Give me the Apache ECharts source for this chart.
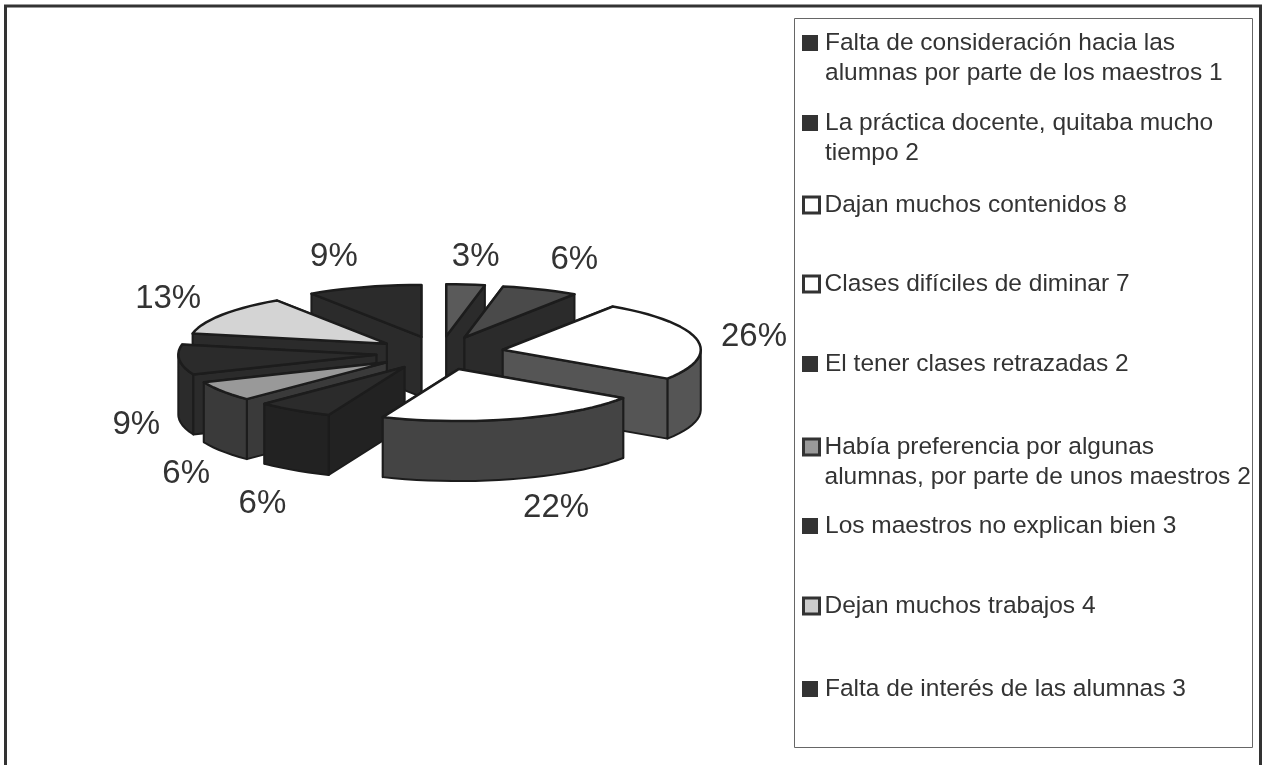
<!DOCTYPE html>
<html>
<head>
<meta charset="utf-8">
<style>
  html, body { margin: 0; padding: 0; background: #fff; }
  #chartshow { width: 1267px; height: 765px; }
</style>
<script src="https://cdn.jsdelivr.net/npm/echarts@6/dist/echarts.min.js"></script>
</head>
<body>
<div id="chartshow"></div>
<script>
const categories = [
  'Falta de consideración hacia las\nalumnas por parte de los maestros 1',
  'La práctica docente, quitaba mucho\ntiempo 2',
  'Dajan muchos contenidos 8',
  'Clases difíciles de diminar 7',
  'El tener clases retrazadas 2',
  'Había preferencia por algunas\nalumnas, por parte de unos maestros 2',
  'Los maestros no explican bien 3',
  'Dejan muchos trabajos 4',
  'Falta de interés de las alumnas 3',
];
const values = [1, 2, 8, 7, 2, 2, 3, 4, 3];
const pctLabels = ['3%', '6%', '26%', '22%', '6%', '6%', '9%', '13%', '9%'];

// colores de cada rebanada
const topColors = ['#5a5a5a', '#4a4a4a', '#ffffff', '#ffffff', '#2b2b2b', '#999999', '#2b2b2b', '#d4d4d4', '#2b2b2b'];
const sideColors = ['#2b2b2b', '#2b2b2b', '#555555', '#444444', '#222222', '#3a3a3a', '#2b2b2b', '#2b2b2b', '#2b2b2b'];
const swatchColors = ['#333333', '#333333', '#ffffff', '#ffffff', '#333333', '#999999', '#333333', '#cccccc', '#333333'];

// orden de pintado, de atras hacia adelante
const drawOrder = [8, 0, 1, 7, 6, 2, 5, 4, 3];

// geometria del pastel
const cx = 440, cy = 353;
const rx = 198, ry = 52;
const depth = 60;
const explode = 64;
// desplazamiento de cada etiqueta respecto al borde de su rebanada
const labelOffsets = [[10, -28], [34, -30], [57, -3], [40, 29], [-32, 34], [-36, 23], [-43, 5], [-54, -16], [-30, -30]];
// centro vertical de la primera linea de cada entrada de la leyenda
const legendCenters = [43, 123, 205, 284, 364, 447, 526, 606, 689];
const legendLine = 30;

const total = values.reduce((a, b) => a + b, 0);
const toRad = (v) => (v / total) * Math.PI * 2;

const sliceGeometry = (i) => {
  const before = values.slice(0, i).reduce((a, b) => a + b, 0);
  const start = toRad(before);
  const end = toRad(before + values[i]);
  const mid = (start + end) / 2;
  const ax = cx + explode * Math.sin(mid);
  const ay = cy - (explode * Math.cos(mid) * ry) / rx;
  const at = (t) => [ax + rx * Math.sin(t), ay - ry * Math.cos(t)];
  const arc = [];
  const front = []; // parte del arco que mira al frente
  const steps = Math.max(4, Math.ceil((end - start) / 0.06));
  for (let k = 0; k <= steps; k++) {
    const t = start + ((end - start) * k) / steps;
    arc.push(at(t));
    if (Math.cos(t) <= 0) front.push(at(t));
  }
  // agregar las esquinas exactas donde el arco cruza el lado
  if (start < Math.PI / 2 && end > Math.PI / 2) front.unshift(at(Math.PI / 2));
  if (start < Math.PI * 1.5 && end > Math.PI * 1.5) front.push(at(Math.PI * 1.5));
  return { apex: [ax, ay], arc, front, mid: at(mid), midAngle: mid };
};

const down = (p) => [p[0], p[1] + depth];

const renderSlice = (i) => () => {
  const g = sliceGeometry(i);
  const first = g.arc[0];
  const last = g.arc[g.arc.length - 1];
  const lineStyle = { stroke: '#1c1c1c', lineWidth: 2, lineJoin: 'round' };

  const walls = [
    [g.apex, first, down(first), down(g.apex)],
    [g.apex, last, down(last), down(g.apex)],
  ];
  if (g.front.length > 1) {
    walls.push(g.front.concat(g.front.map(down).reverse()));
  }
  // paredes de atras primero
  const meanY = (pts) => pts.reduce((s, p) => s + p[1], 0) / pts.length;
  walls.sort((a, b) => meanY(a) - meanY(b));

  const children = walls.map((points) => ({
    type: 'polygon',
    shape: { points },
    style: { fill: sideColors[i], ...lineStyle },
  }));
  children.push({
    type: 'polygon',
    shape: { points: [g.apex].concat(g.arc) },
    style: { fill: topColors[i], ...lineStyle, lineWidth: 2.5 },
  });

  // las rebanadas del frente llevan la etiqueta debajo de la pared
  const frontDrop = Math.cos(g.midAngle) < -0.05 ? depth : 0;
  children.push({
    type: 'text',
    x: g.mid[0] + labelOffsets[i][0],
    y: g.mid[1] + frontDrop + labelOffsets[i][1],
    style: {
      text: pctLabels[i],
      fill: '#333333',
      font: '33px "Liberation Sans", Arial, sans-serif',
      textAlign: 'center',
      textVerticalAlign: 'middle',
    },
  });
  return { type: 'group', children };
};

const myChart = echarts.init(document.getElementById('chartshow'));

const frameLine = (x1, y1, x2, y2) => ({
  type: 'line',
  shape: { x1, y1, x2, y2 },
  style: { stroke: '#333333', lineWidth: 3 },
  silent: true,
});

const chart_option = {
  animation: false,
  backgroundColor: '#ffffff',
  graphic: [
    // el marco no tiene linea inferior
    frameLine(5.5, 5, 5.5, 765),
    frameLine(4, 6, 1262, 6),
    frameLine(1260.5, 5, 1260.5, 765),
    {
      type: 'rect',
      shape: { x: 794.5, y: 18.5, width: 458, height: 729 },
      style: { fill: 'none', stroke: '#666666', lineWidth: 1 },
      silent: true,
    },
  ],
  legend: categories.map((name, i) => {
    const twoLines = name.includes('\n');
    const bordered = swatchColors[i] !== '#333333';
    return {
      left: 802,
      top: legendCenters[i] - (twoLines ? legendLine * 1.5 : legendLine / 2),
      orient: 'vertical',
      selectedMode: false,
      itemWidth: 16,
      itemHeight: 16,
      itemGap: 0,
      icon: 'rect',
      padding: 0,
      // linea vacia arriba para que el cuadro quede junto a la primera linea
      formatter: (n) => (twoLines ? '\u00a0\n' + n : n),
      data: [
        {
          name,
          itemStyle: { color: swatchColors[i], borderColor: '#333333', borderWidth: bordered ? 3 : 0 },
        },
      ],
      textStyle: {
        color: '#333333',
        fontFamily: '"Liberation Sans", Arial, sans-serif',
        fontSize: 24.5,
        lineHeight: legendLine,
        padding: [0, 0, 0, bordered ? 0 : 2],
      },
    };
  }),
  series: drawOrder.map((i) => ({
    name: categories[i],
    type: 'custom',
    coordinateSystem: 'none',
    silent: true,
    itemStyle: { color: swatchColors[i] },
    renderItem: renderSlice(i),
    data: [values[i]],
  })),
};

myChart.setOption(chart_option);
</script>
</body>
</html>
